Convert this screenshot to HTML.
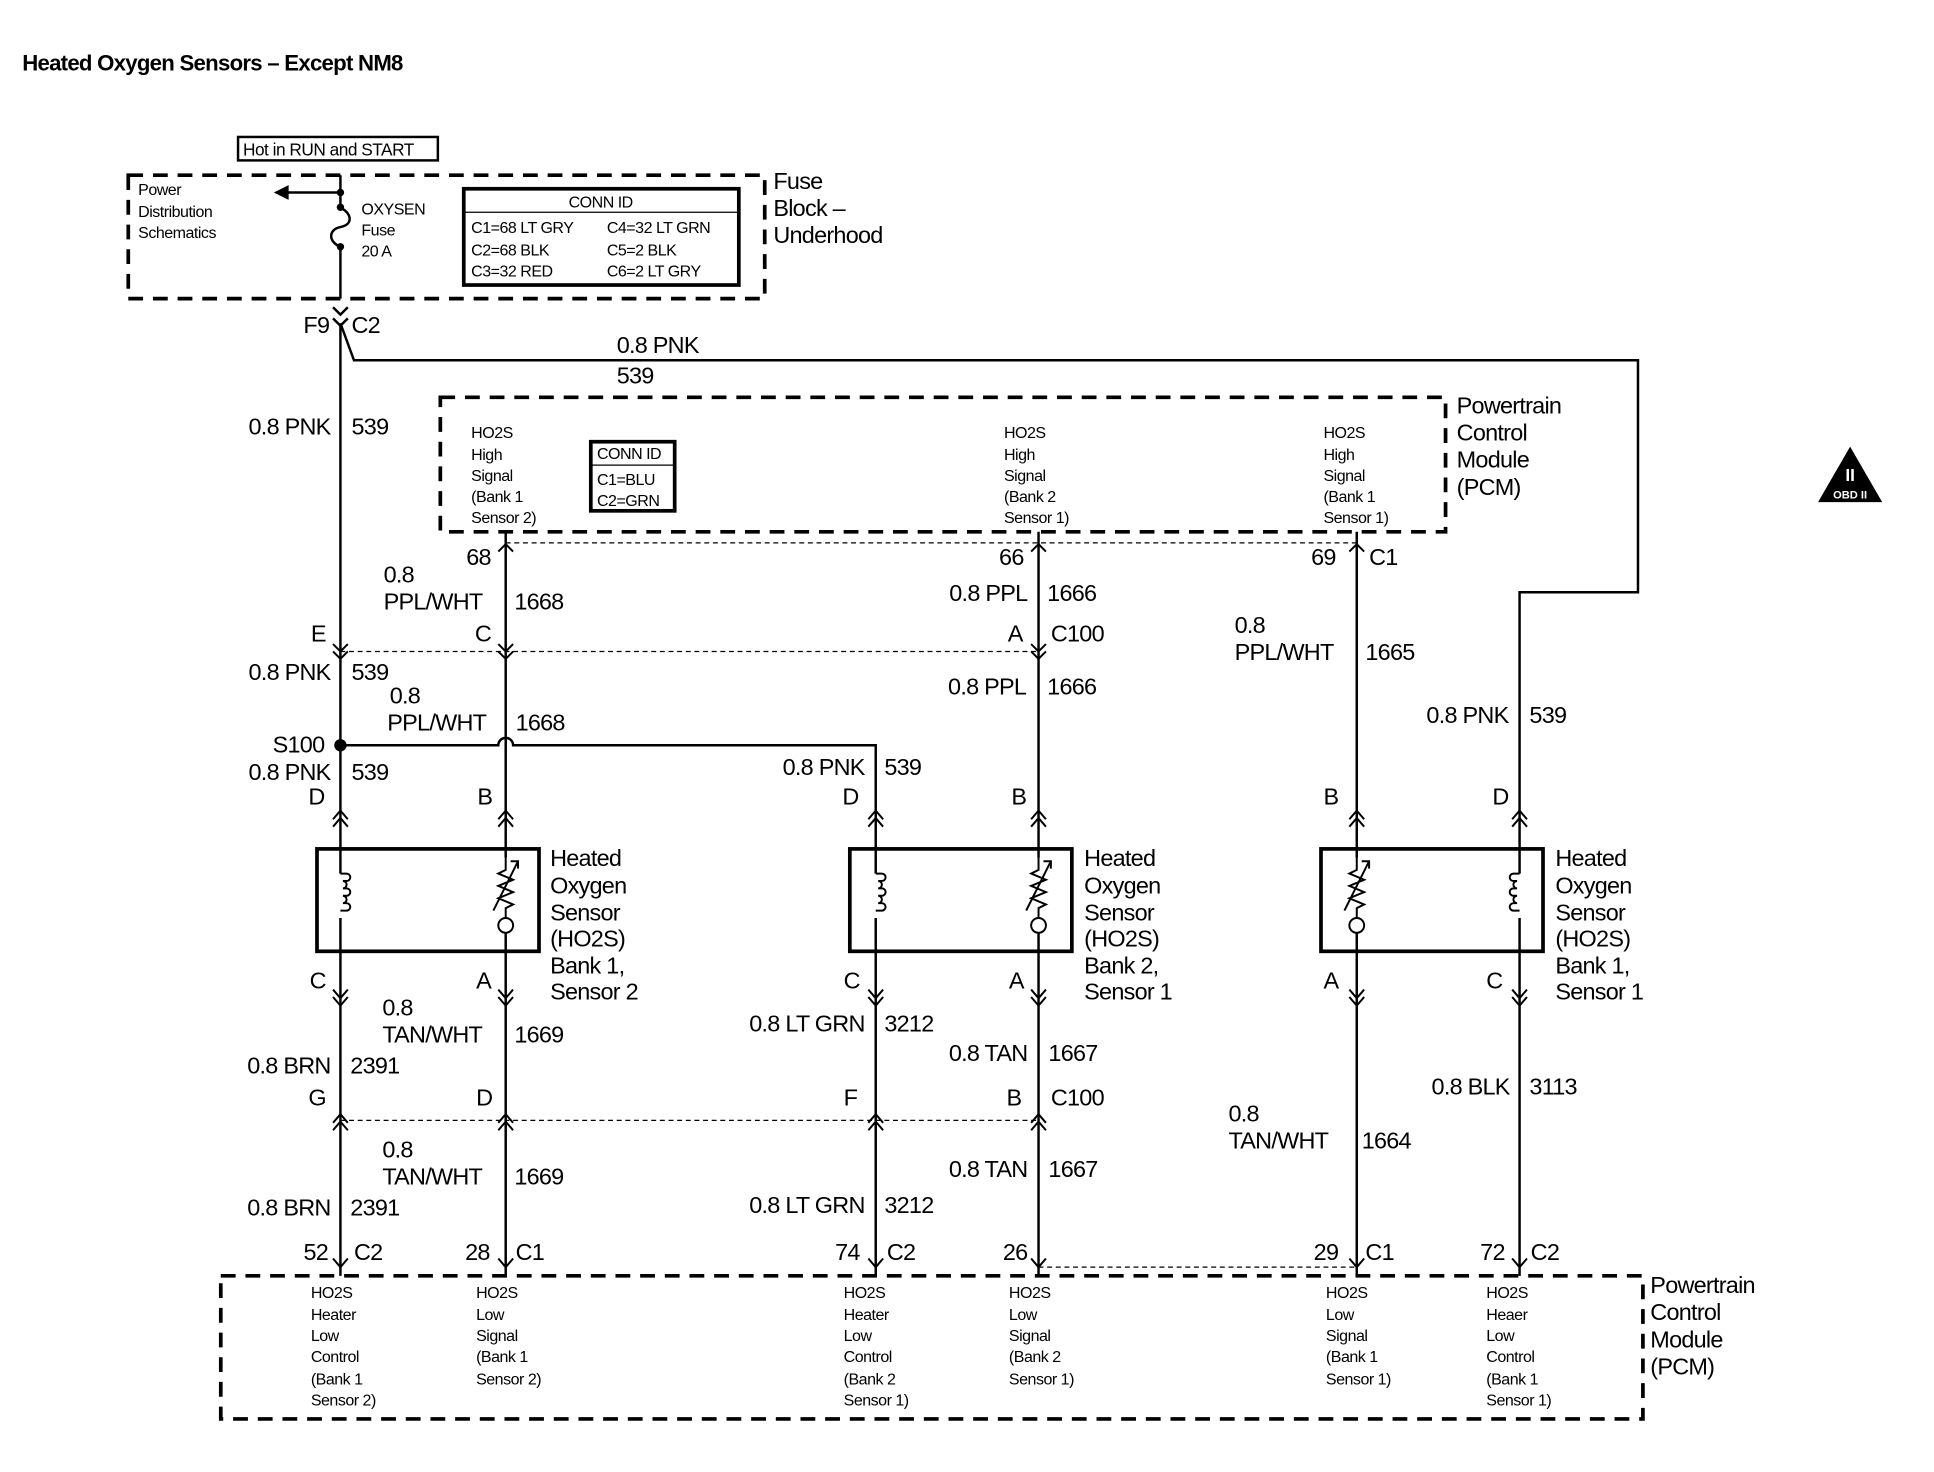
<!DOCTYPE html>
<html><head><meta charset="utf-8"><style>
html,body{margin:0;padding:0;background:#fff}
svg{display:block}
text{font-family:"Liberation Sans Narrow","Liberation Sans",sans-serif;fill:#000}
.m{font-size:19px;letter-spacing:-0.6px}
.s{font-size:13px;letter-spacing:-0.4px}
.r{text-anchor:end}
</style></head><body>
<svg width="1934" height="1472" viewBox="0 0 1568 1193" preserveAspectRatio="none" xmlns="http://www.w3.org/2000/svg">
<g stroke="#000" fill="none" stroke-width="2">
<rect x="104" y="142" width="516" height="100" stroke-dasharray="12,8" stroke-width="3"/>
<rect x="193" y="111" width="162" height="19"/>
<rect x="376" y="153" width="223" height="78" stroke-width="3"/>
<line x1="376" y1="172" x2="599" y2="172" stroke-width="1"/>
<path d="M276 142 V168 M276 200 V242"/>
<path d="M276 168 C286 174,286 182,276 184 C266 186,266 196,276 200"/>
<path d="M276 156 H232"/>
<path d="M270 249 L276 255 L282 249"/>
<path d="M270 258 L276 264 L282 258"/>
<path d="M276 262 V1034"/>
<path d="M276 262 L287 292 H1328 V480 H1232 V1034"/>
<rect x="357" y="322" width="815" height="109" stroke-dasharray="12,8" stroke-width="3"/>
<rect x="479" y="358" width="68" height="56" stroke-width="3"/>
<line x1="479" y1="377" x2="547" y2="377" stroke-width="1"/>
<line x1="410" y1="440" x2="1100" y2="440" stroke-width="1" stroke-dasharray="4,3"/>
<path d="M410 431 V1034 M842 431 V1034 M1100 431 V1034"/>
<line x1="276" y1="528" x2="842" y2="528" stroke-width="1" stroke-dasharray="4,3"/>
<line x1="276" y1="908" x2="842" y2="908" stroke-width="1" stroke-dasharray="4,3"/>
<line x1="842" y1="1027" x2="1100" y2="1027" stroke-width="1" stroke-dasharray="4,3"/>
<path d="M276 604 H404 A6 6 0 0 1 416 604 H710 V1034"/>
<rect x="257" y="688" width="180" height="83" stroke-width="3"/>
<rect x="689" y="688" width="180" height="83" stroke-width="3"/>
<rect x="1071" y="688" width="180" height="83" stroke-width="3"/>
<rect x="179" y="1034" width="1153" height="116" stroke-dasharray="12,8" stroke-width="3"/>
</g>
<g fill="#fff" stroke="none">
<rect x="270" y="708" width="12" height="36"/><rect x="704" y="708" width="12" height="36"/><rect x="1226" y="708" width="12" height="36"/>
</g>
<g stroke="#000" fill="none" stroke-width="1.6">
<path d="M276 708 h5 a3 3 0 0 1 0 6 h-3 a3 3 0 0 1 0 6 h3 a3 3 0 0 1 0 6 h-3 a3 3 0 0 1 0 6 h3 a3 3 0 0 1 0 6 h-5"/>
<path d="M710 708 h5 a3 3 0 0 1 0 6 h-3 a3 3 0 0 1 0 6 h3 a3 3 0 0 1 0 6 h-3 a3 3 0 0 1 0 6 h3 a3 3 0 0 1 0 6 h-5"/>
<path d="M1232 708 h-5 a3 3 0 0 0 0 6 h3 a3 3 0 0 0 0 6 h-3 a3 3 0 0 0 0 6 h3 a3 3 0 0 0 0 6 h-3 a3 3 0 0 0 0 6 h5"/>
</g>
<g fill="#000" stroke="none">
<circle cx="276" cy="156" r="3"/><circle cx="276" cy="168" r="3"/><circle cx="276" cy="200" r="3"/>
<path d="M222 156 L234 150 L234 162 Z"/>
<circle cx="276" cy="604" r="5"/>
<path d="M1500 362 L1526 407 L1474 407 Z"/>
</g>
<g fill="#fff" stroke="none"><rect x="402" y="695" width="16" height="50"/><rect x="834" y="695" width="16" height="50"/><rect x="1092" y="695" width="16" height="50"/></g>
<g stroke="#000" fill="none" stroke-width="1.6">
<g id="th"><path d="M410 695 V705 L404 708 L416 713 L404 718 L416 723 L404 728 L416 733 L410 736 V744"/><path d="M400 738 L420 698"/><path d="M414 698 L420 698 L420 704"/><circle cx="410" cy="750" r="6" fill="#fff"/></g>
<use href="#th" x="432"/><use href="#th" x="690"/>
<path id="cu" d="M270 664 L276 657 L282 664 M270 670 L276 663 L282 670"/>
<use href="#cu" x="134"/><use href="#cu" x="434"/><use href="#cu" x="566"/><use href="#cu" x="824"/><use href="#cu" x="956"/>
<path id="cd" d="M270 802 L276 809 L282 802 M270 808 L276 815 L282 808"/>
<use href="#cd" x="134"/><use href="#cd" x="434"/><use href="#cd" x="566"/><use href="#cd" x="824"/><use href="#cd" x="956"/>
<path id="cm" d="M270 522 L276 528 L282 522 M270 528 L276 534 L282 528"/>
<use href="#cm" x="134"/><use href="#cm" x="566"/>
<path id="cb" d="M270 910 L276 903 L282 910 M270 916 L276 909 L282 916"/>
<use href="#cb" x="134"/><use href="#cb" x="434"/><use href="#cb" x="566"/>
<path id="cp" d="M404 447 L410 441 L416 447"/>
<use href="#cp" x="432"/><use href="#cp" x="690"/>
<path id="cq" d="M270 1020 L276 1027 L282 1020"/>
<use href="#cq" x="134"/><use href="#cq" x="434"/><use href="#cq" x="566"/><use href="#cq" x="824"/><use href="#cq" x="956"/>
</g>
<text x="1500" y="390" style="font-size:14px;font-weight:bold" text-anchor="middle"><tspan fill="#fff">II</tspan></text>
<text x="1500" y="404" style="font-size:9px;font-weight:bold" text-anchor="middle"><tspan fill="#fff">OBD II</tspan></text>

<text x="18" y="57" style="font-size:18px;font-weight:bold;letter-spacing:-0.6px">Heated Oxygen Sensors – Except NM8</text>
<text x="197" y="126" class="s" style="font-size:14px">Hot in RUN and START</text>
<text class="s"><tspan x="112" y="158">Power</tspan><tspan x="112" y="176">Distribution</tspan><tspan x="112" y="193">Schematics</tspan></text>
<text class="s"><tspan x="293" y="174">OXYSEN</tspan><tspan x="293" y="191">Fuse</tspan><tspan x="293" y="208">20 A</tspan></text>
<text class="s" x="487" y="168" text-anchor="middle">CONN ID</text>
<text class="s"><tspan x="382" y="189">C1=68 LT GRY</tspan><tspan x="382" y="207">C2=68 BLK</tspan><tspan x="382" y="224">C3=32 RED</tspan></text>
<text class="s"><tspan x="492" y="189">C4=32 LT GRN</tspan><tspan x="492" y="207">C5=2 BLK</tspan><tspan x="492" y="224">C6=2 LT GRY</tspan></text>
<text class="m"><tspan x="627" y="153">Fuse</tspan><tspan x="627" y="175">Block –</tspan><tspan x="627" y="197">Underhood</tspan></text>
<text class="m"><tspan x="246" y="270">F9</tspan><tspan x="285" y="270">C2</tspan></text>
<text class="m" x="500" y="286">0.8 PNK</text><text class="m" x="500" y="311">539</text>
<text class="m r" x="268" y="352">0.8 PNK</text><text class="m" x="285" y="352">539</text>
<text class="m"><tspan x="1181" y="335">Powertrain</tspan><tspan x="1181" y="357">Control</tspan><tspan x="1181" y="379">Module</tspan><tspan x="1181" y="401">(PCM)</tspan></text>
<text class="s"><tspan x="382" y="355">HO2S</tspan><tspan x="382" y="373">High</tspan><tspan x="382" y="390">Signal</tspan><tspan x="382" y="407">(Bank 1</tspan><tspan x="382" y="424">Sensor 2)</tspan></text>
<text class="s"><tspan x="814" y="355">HO2S</tspan><tspan x="814" y="373">High</tspan><tspan x="814" y="390">Signal</tspan><tspan x="814" y="407">(Bank 2</tspan><tspan x="814" y="424">Sensor 1)</tspan></text>
<text class="s"><tspan x="1073" y="355">HO2S</tspan><tspan x="1073" y="373">High</tspan><tspan x="1073" y="390">Signal</tspan><tspan x="1073" y="407">(Bank 1</tspan><tspan x="1073" y="424">Sensor 1)</tspan></text>
<text class="s"><tspan x="484" y="372">CONN ID</tspan><tspan x="484" y="393">C1=BLU</tspan><tspan x="484" y="410">C2=GRN</tspan></text>
<text class="m"><tspan x="378" y="458">68</tspan><tspan x="810" y="458">66</tspan><tspan x="1063" y="458">69</tspan><tspan x="1110" y="458">C1</tspan></text>
<text class="m"><tspan x="311" y="472">0.8</tspan><tspan x="311" y="494">PPL/WHT</tspan><tspan x="417" y="494">1668</tspan></text>
<text class="m r" x="833" y="487">0.8 PPL</text><text class="m" x="849" y="487">1666</text>
<text class="m"><tspan x="1001" y="513">0.8</tspan><tspan x="1001" y="535">PPL/WHT</tspan><tspan x="1107" y="535">1665</tspan></text>
<text class="m"><tspan x="252" y="520">E</tspan><tspan x="385" y="520">C</tspan><tspan x="817" y="520">A</tspan><tspan x="852" y="520">C100</tspan></text>
<text class="m r" x="268" y="551">0.8 PNK</text><text class="m" x="285" y="551">539</text>
<text class="m"><tspan x="316" y="570">0.8</tspan><tspan x="314" y="592">PPL/WHT</tspan><tspan x="418" y="592">1668</tspan></text>
<text class="m r" x="832" y="563">0.8 PPL</text><text class="m" x="849" y="563">1666</text>
<text class="m r" x="1223" y="586">0.8 PNK</text><text class="m" x="1240" y="586">539</text>
<text class="m r" x="263" y="610">S100</text>
<text class="m r" x="268" y="632">0.8 PNK</text><text class="m" x="285" y="632">539</text>
<text class="m r" x="701" y="628">0.8 PNK</text><text class="m" x="717" y="628">539</text>
<text class="m"><tspan x="250" y="652">D</tspan><tspan x="387" y="652">B</tspan><tspan x="683" y="652">D</tspan><tspan x="820" y="652">B</tspan><tspan x="1073" y="652">B</tspan><tspan x="1210" y="652">D</tspan></text>
<text class="m"><tspan x="446" y="702">Heated</tspan><tspan x="446" y="724">Oxygen</tspan><tspan x="446" y="746">Sensor</tspan><tspan x="446" y="767">(HO2S)</tspan><tspan x="446" y="789">Bank 1,</tspan><tspan x="446" y="810">Sensor 2</tspan></text>
<text class="m"><tspan x="879" y="702">Heated</tspan><tspan x="879" y="724">Oxygen</tspan><tspan x="879" y="746">Sensor</tspan><tspan x="879" y="767">(HO2S)</tspan><tspan x="879" y="789">Bank 2,</tspan><tspan x="879" y="810">Sensor 1</tspan></text>
<text class="m"><tspan x="1261" y="702">Heated</tspan><tspan x="1261" y="724">Oxygen</tspan><tspan x="1261" y="746">Sensor</tspan><tspan x="1261" y="767">(HO2S)</tspan><tspan x="1261" y="789">Bank 1,</tspan><tspan x="1261" y="810">Sensor 1</tspan></text>
<text class="m"><tspan x="251" y="801">C</tspan><tspan x="386" y="801">A</tspan><tspan x="684" y="801">C</tspan><tspan x="818" y="801">A</tspan><tspan x="1073" y="801">A</tspan><tspan x="1205" y="801">C</tspan></text>
<text class="m"><tspan x="310" y="823">0.8</tspan><tspan x="310" y="845">TAN/WHT</tspan><tspan x="417" y="845">1669</tspan></text>
<text class="m r" x="268" y="870">0.8 BRN</text><text class="m" x="284" y="870">2391</text>
<text class="m r" x="701" y="836">0.8 LT GRN</text><text class="m" x="717" y="836">3212</text>
<text class="m r" x="833" y="860">0.8 TAN</text><text class="m" x="850" y="860">1667</text>
<text class="m"><tspan x="996" y="909">0.8</tspan><tspan x="996" y="931">TAN/WHT</tspan><tspan x="1104" y="931">1664</tspan></text>
<text class="m r" x="1224" y="887">0.8 BLK</text><text class="m" x="1240" y="887">3113</text>
<text class="m"><tspan x="250" y="896">G</tspan><tspan x="386" y="896">D</tspan><tspan x="684" y="896">F</tspan><tspan x="816" y="896">B</tspan><tspan x="852" y="896">C100</tspan></text>
<text class="m"><tspan x="310" y="938">0.8</tspan><tspan x="310" y="960">TAN/WHT</tspan><tspan x="417" y="960">1669</tspan></text>
<text class="m r" x="268" y="985">0.8 BRN</text><text class="m" x="284" y="985">2391</text>
<text class="m r" x="833" y="954">0.8 TAN</text><text class="m" x="850" y="954">1667</text>
<text class="m r" x="701" y="983">0.8 LT GRN</text><text class="m" x="717" y="983">3212</text>
<text class="m"><tspan x="266" y="1021" text-anchor="end">52</tspan><tspan x="287" y="1021">C2</tspan></text>
<text class="m"><tspan x="397" y="1021" text-anchor="end">28</tspan><tspan x="418" y="1021">C1</tspan></text>
<text class="m"><tspan x="697" y="1021" text-anchor="end">74</tspan><tspan x="719" y="1021">C2</tspan></text>
<text class="m r" x="833" y="1021">26</text>
<text class="m"><tspan x="1085" y="1021" text-anchor="end">29</tspan><tspan x="1107" y="1021">C1</tspan></text>
<text class="m"><tspan x="1220" y="1021" text-anchor="end">72</tspan><tspan x="1241" y="1021">C2</tspan></text>
<text class="m"><tspan x="1338" y="1048">Powertrain</tspan><tspan x="1338" y="1070">Control</tspan><tspan x="1338" y="1092">Module</tspan><tspan x="1338" y="1114">(PCM)</tspan></text>
<text class="s"><tspan x="252" y="1052">HO2S</tspan><tspan x="252" y="1070">Heater</tspan><tspan x="252" y="1087">Low</tspan><tspan x="252" y="1104">Control</tspan><tspan x="252" y="1122">(Bank 1</tspan><tspan x="252" y="1139">Sensor 2)</tspan></text>
<text class="s"><tspan x="386" y="1052">HO2S</tspan><tspan x="386" y="1070">Low</tspan><tspan x="386" y="1087">Signal</tspan><tspan x="386" y="1104">(Bank 1</tspan><tspan x="386" y="1122">Sensor 2)</tspan></text>
<text class="s"><tspan x="684" y="1052">HO2S</tspan><tspan x="684" y="1070">Heater</tspan><tspan x="684" y="1087">Low</tspan><tspan x="684" y="1104">Control</tspan><tspan x="684" y="1122">(Bank 2</tspan><tspan x="684" y="1139">Sensor 1)</tspan></text>
<text class="s"><tspan x="818" y="1052">HO2S</tspan><tspan x="818" y="1070">Low</tspan><tspan x="818" y="1087">Signal</tspan><tspan x="818" y="1104">(Bank 2</tspan><tspan x="818" y="1122">Sensor 1)</tspan></text>
<text class="s"><tspan x="1075" y="1052">HO2S</tspan><tspan x="1075" y="1070">Low</tspan><tspan x="1075" y="1087">Signal</tspan><tspan x="1075" y="1104">(Bank 1</tspan><tspan x="1075" y="1122">Sensor 1)</tspan></text>
<text class="s"><tspan x="1205" y="1052">HO2S</tspan><tspan x="1205" y="1070">Heaer</tspan><tspan x="1205" y="1087">Low</tspan><tspan x="1205" y="1104">Control</tspan><tspan x="1205" y="1122">(Bank 1</tspan><tspan x="1205" y="1139">Sensor 1)</tspan></text>
</svg>
</body></html>
